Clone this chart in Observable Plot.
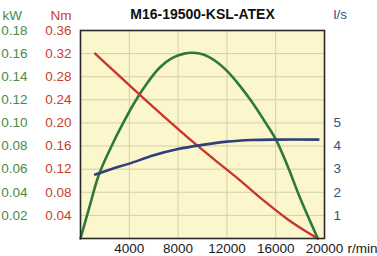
<!DOCTYPE html>
<html>
<head>
<meta charset="utf-8">
<script src="https://cdn.jsdelivr.net/npm/d3@7"></script>
<script src="https://cdn.jsdelivr.net/npm/@observablehq/plot@0.6"></script>
<style>
  html, body { margin: 0; padding: 0; background: #fff; }
  #chart svg { display: block; }
</style>
</head>
<body>
<div id="chart"></div>
<script>
const title = "M16-19500-KSL-ATEX";

// Power curve (kW) vs speed (r/min)
const powerRpm = [0, 700, 1500, 2500, 3500, 4500, 5500, 6500, 7500, 8500, 9200, 10000, 11000, 12000, 13000, 14000, 15000, 16000, 17000, 18000, 19450];
const powerKw  = [0, 0.026, 0.055, 0.079, 0.100, 0.119, 0.135, 0.148, 0.156, 0.1600, 0.1607, 0.1595, 0.154, 0.145, 0.133, 0.119, 0.103, 0.086, 0.062, 0.035, 0];

// Torque curve (Nm)
const torqueRpm = [1200, 3000, 5000, 7000, 9000, 11000, 13000, 15000, 17000, 18500, 19450];
const torqueNm  = [0.320, 0.285, 0.246, 0.208, 0.171, 0.136, 0.102, 0.066, 0.033, 0.012, 0];

// Air consumption (l/s)
const flowRpm = [1200, 2500, 4000, 6000, 8000, 10000, 12000, 14000, 16000, 19500];
const flowLs  = [2.77, 3.00, 3.24, 3.60, 3.87, 4.05, 4.19, 4.26, 4.28, 4.28];

// Tick labels
const rpmTicks = [4000, 8000, 12000, 16000, 20000];
const kwTicks  = [0.02, 0.04, 0.06, 0.08, 0.10, 0.12, 0.14, 0.16, 0.18];
const nmTicks  = [0.04, 0.08, 0.12, 0.16, 0.20, 0.24, 0.28, 0.32, 0.36];
const lsTicks  = [1, 2, 3, 4, 5];

const green = "#2b7a3c", red = "#c8372d", blue = "#2f4078";
const greenText = "#4a8a4a", redText = "#c4402c", blueText = "#3b4c80";

const chart = Plot.plot({
  width: 377,
  height: 256,
  marginTop: 30,
  marginBottom: 18,
  marginLeft: 80,
  marginRight: 53,
  x: {domain: [0, 20000]},
  y: {domain: [0, 0.18]},
  style: {fontFamily: "'Liberation Sans', Arial, sans-serif", fontSize: "13.5px", background: "#fff", overflow: "visible"},
  marks: [
    Plot.frame({fill: "#fbf6cb", stroke: null}),
    Plot.gridX(rpmTicks.slice(0, 4), {stroke: "#d6cfa6", strokeOpacity: 1, strokeWidth: 1}),
    Plot.gridY(kwTicks.slice(0, 8), {stroke: "#d6cfa6", strokeOpacity: 1, strokeWidth: 1}),
    Plot.line(powerKw, {x: powerRpm, y: powerKw, stroke: green, strokeWidth: 2.6, curve: "catmull-rom"}),
    Plot.line(torqueNm, {x: torqueRpm, y: torqueNm.map(v => v / 2), stroke: red, strokeWidth: 2.4, curve: "catmull-rom"}),
    Plot.line(flowLs, {x: flowRpm, y: flowLs.map(v => v * 0.02), stroke: blue, strokeWidth: 2.6, curve: "catmull-rom"}),
    Plot.frame({stroke: "#2a2a2a", strokeWidth: 1.6}),
    Plot.axisX(rpmTicks, {tickSize: 0, tickPadding: 5, label: null, fill: "#1a1a1a", tickFormat: d => String(d)}),
    Plot.axisY(kwTicks, {anchor: "left", tickSize: 0, tickPadding: 53, label: null, fill: greenText, tickFormat: d => d.toFixed(2)}),
    Plot.axisY(nmTicks.map(v => v / 2), {anchor: "left", tickSize: 0, tickPadding: 9, label: null, fill: redText, tickFormat: d => (d * 2).toFixed(2)}),
    Plot.axisY(lsTicks.map(v => v * 0.02), {anchor: "right", tickSize: 0, tickPadding: 9, label: null, fill: blueText, tickFormat: d => String(Math.round(d / 0.02))}),
    Plot.text(["r/min"], {x: () => 20000, y: () => 0, text: d => d, dx: 23, dy: 10, textAnchor: "start", fill: "#1a1a1a"}),
    Plot.text(["kW"], {frameAnchor: "top-left", text: d => d, dx: -78, dy: -20, textAnchor: "start", fill: greenText}),
    Plot.text(["Nm"], {frameAnchor: "top-left", text: d => d, dx: -30, dy: -20, textAnchor: "start", fill: redText}),
    Plot.text(["l/s"], {frameAnchor: "top-right", text: d => d, dx: 9, dy: -21, textAnchor: "start", fill: blueText}),
    Plot.text([title], {frameAnchor: "top-left", text: d => d, dx: 122, dy: -21, textAnchor: "middle", fill: "#111", fontWeight: "bold", fontSize: 14})
  ]
});
document.getElementById("chart").appendChild(chart);
</script>
</body>
</html>
